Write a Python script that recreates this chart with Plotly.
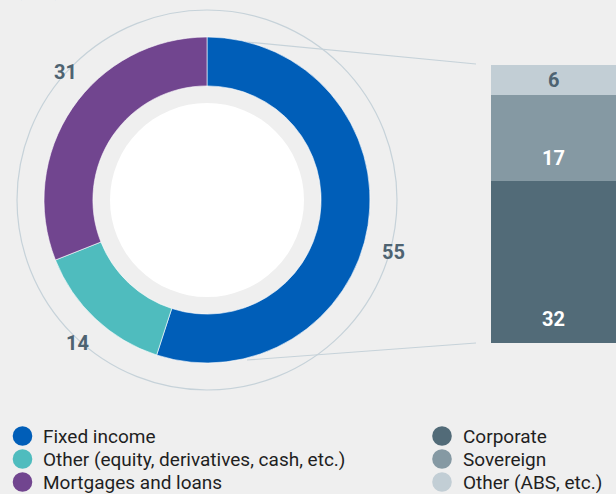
import plotly.graph_objects as go

W, H = 616, 494

# ---------------- data ----------------
pie_labels = ["Fixed income", "Other (equity, derivatives, cash, etc.)", "Mortgages and loans"]
pie_values = [55, 14, 31]
pie_colors = ["#005eb8", "#4fbcbe", "#71458f"]

bar_labels = ["Corporate", "Sovereign", "Other (ABS, etc.)"]
bar_values = [32, 17, 6]
bar_colors = ["#526b78", "#8599a3", "#c2ced5"]

title_text = "(in %)"

# ---------------- helpers ----------------
def px(x):
    return x / W

def py(y):
    return (H - y) / H

SLATE = "#4e6371"
FONT = "Roboto, 'Noto Sans', sans-serif"
TXT = "#1f1f1f"
RING = "#c6d2d9"

fig = go.Figure()

# donut
cx, cy, R = 207, 200, 163
fig.add_trace(go.Pie(
    labels=pie_labels, values=pie_values, hole=0.70, sort=False,
    direction="clockwise", rotation=0,
    marker=dict(colors=pie_colors, line=dict(color="#ffffff", width=0.6)),
    textinfo="none", hoverinfo="label+value", showlegend=False,
    domain=dict(x=[px(cx - R), px(cx + R)], y=[py(cy + R), py(cy - R)]),
))

# stacked bar
for lab, val, col in zip(bar_labels, bar_values, bar_colors):
    fig.add_trace(go.Bar(
        x=[0], y=[val], name=lab, marker=dict(color=col, line=dict(width=0)),
        width=1.0, showlegend=False, hoverinfo="name+y",
        xaxis="x", yaxis="y",
    ))

total_bar = sum(bar_values)

annotations = []
shapes = [
    # outer thin ring
    dict(type="circle", xref="paper", yref="paper", layer="below",
         x0=px(cx - 190), x1=px(cx + 190), y0=py(cy + 190), y1=py(cy - 190),
         line=dict(color=RING, width=1.2)),
    # inner white disk
    dict(type="circle", xref="paper", yref="paper", layer="below",
         x0=px(cx - 97), x1=px(cx + 97), y0=py(cy + 97), y1=py(cy - 97),
         fillcolor="#ffffff", line=dict(width=0)),
    # connectors
    dict(type="line", xref="paper", yref="paper", layer="below",
         x0=px(247), y0=py(42), x1=px(476), y1=py(64),
         line=dict(color=RING, width=1.2)),
    dict(type="line", xref="paper", yref="paper", layer="below",
         x0=px(247), y0=py(360), x1=px(476), y1=py(343),
         line=dict(color=RING, width=1.2)),
]

# donut labels
for txt, (x, y) in zip([str(v) for v in pie_values], [(393, 252), (77, 343), (65, 72)]):
    annotations.append(dict(x=px(x), y=py(y), xref="paper", yref="paper",
                            xanchor="center", yanchor="middle",
                            text="<b>%s</b>" % txt, showarrow=False,
                            font=dict(size=20, color=SLATE, family=FONT)))
# bar labels
base = 0
for i, v in enumerate(bar_values):
    if i == len(bar_values) - 1:
        yy = base + v / 2
        colr = SLATE
    else:
        yy = base + 4.7
        colr = "#ffffff"
    annotations.append(dict(x=px(553), y=yy, xref="paper", yref="y",
                            xanchor="center", yanchor="middle",
                            text="<b>%d</b>" % v, showarrow=False,
                            font=dict(size=20, color=colr, family=FONT)))
    base += v

# title (cut at the top edge)
annotations.append(dict(x=px(14), y=py(3), xref="paper", yref="paper",
                        xanchor="left", yanchor="bottom", text=title_text,
                        showarrow=False, font=dict(size=18, color="#2b7bd0", family=FONT)))

# manual legends (two columns)
rows_y = [436, 459, 482]
for col_x, names, cols in [(22.5, pie_labels, pie_colors), (442, bar_labels, bar_colors)]:
    for yy, name, colr in zip(rows_y, names, cols):
        shapes.append(dict(type="circle", xref="paper", yref="paper",
                           x0=px(col_x - 9.8), x1=px(col_x + 9.8),
                           y0=py(yy + 9.8), y1=py(yy - 9.8),
                           fillcolor=colr, line=dict(width=0)))
        annotations.append(dict(x=px(col_x + 19.5), y=py(yy), xref="paper", yref="paper",
                                xanchor="left", yanchor="middle", text=name,
                                showarrow=False, borderpad=0,
                                font=dict(size=19, color=TXT, family=FONT)))

fig.update_layout(
    width=W, height=H, margin=dict(l=0, r=0, t=0, b=0, autoexpand=False),
    paper_bgcolor="#efefef", plot_bgcolor="rgba(0,0,0,0)",
    barmode="stack", bargap=0, showlegend=False,
    xaxis=dict(domain=[px(491), 1], range=[-0.5, 0.45], visible=False, fixedrange=True),
    yaxis=dict(domain=[py(343), py(65)], range=[0, total_bar], visible=False, fixedrange=True),
    font=dict(family=FONT, color=TXT),
    annotations=annotations, shapes=shapes,
)

fig.write_html("out.html", config={"displayModeBar": False},
               post_script="document.body.style.margin='0';document.body.style.background='#efefef';")
